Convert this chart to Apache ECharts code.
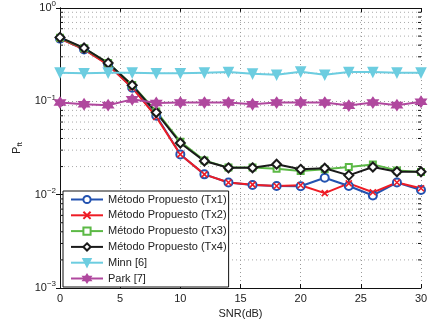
<!DOCTYPE html>
<html>
<head>
<meta charset="utf-8">
<script src="https://cdn.jsdelivr.net/npm/echarts@6/dist/echarts.min.js"></script>
<style>
  html, body { margin: 0; padding: 0; background: #fff; }
  #chart { width: 431px; height: 327px; }
</style>
</head>
<body>
<div id="chart"></div>
<script>
// SNR (dB) sampled every 2 dB
const snr = [0, 2, 4, 6, 8, 10, 12, 14, 16, 18, 20, 22, 24, 26, 28, 30];

// P_ft per method
const tx1 = [0.47, 0.36, 0.248, 0.14, 0.070, 0.027, 0.0165, 0.0135, 0.0127, 0.0124, 0.0123, 0.0152, 0.0124, 0.0098, 0.0135, 0.0112];
const tx2 = [0.47, 0.36, 0.245, 0.14, 0.068, 0.027, 0.0165, 0.0135, 0.0128, 0.0124, 0.0126, 0.0104, 0.0132, 0.0106, 0.0135, 0.0117];
const tx3 = [0.48, 0.37, 0.258, 0.15, 0.078, 0.037, 0.0232, 0.0195, 0.0195, 0.0190, 0.0179, 0.0187, 0.0198, 0.0211, 0.0182, 0.0175];
const tx4 = [0.484, 0.373, 0.257, 0.149, 0.0758, 0.0358, 0.0229, 0.0194, 0.0194, 0.0212, 0.0187, 0.0192, 0.0161, 0.0198, 0.0176, 0.0176];
const minn = [0.203, 0.200, 0.203, 0.203, 0.200, 0.200, 0.203, 0.206, 0.198, 0.193, 0.208, 0.193, 0.206, 0.206, 0.203, 0.203];
const park = [0.097, 0.093, 0.091, 0.105, 0.096, 0.097, 0.097, 0.097, 0.093, 0.097, 0.097, 0.097, 0.090, 0.097, 0.091, 0.099];

const names = ["Método Propuesto (Tx1)", "Método Propuesto (Tx2)", "Método Propuesto (Tx3)", "Método Propuesto (Tx4)", "Minn [6]", "Park [7]"];

// minor log ticks (2..9 of each decade)
const minorTicks = [];
[0.001, 0.01, 0.1].forEach((d) => {
  for (let m = 2; m <= 9; m++) minorTicks.push(+(d * m).toPrecision(3));
});

const font = "'Liberation Sans', Arial, sans-serif";

function pairs(ys) {
  return snr.map((x, i) => [x, ys[i]]);
}

function expLabel(v) {
  const e = Math.round(Math.log10(v));
  return `{b|10}{s|${e < 0 ? "\u2212" + (-e) : e}}`;
}

const labelRich = {
  b: { fontSize: 11, color: "#222", fontFamily: font },
  s: { fontSize: 8, color: "#222", fontFamily: font, padding: [0, 0, 8, 0] }
};

function lineSeries(name, ys, color, symbol, size, extra) {
  return Object.assign({
    name,
    type: "line",
    data: pairs(ys),
    symbol,
    symbolSize: size,
    showAllSymbol: true,
    lineStyle: { color, width: 2 },
    itemStyle: { color, borderColor: color, borderWidth: 1.6 },
    emphasis: { disabled: true },
    animation: false
  }, extra || {});
}

const chart = echarts.init(document.getElementById("chart"));

chart.setOption({
  animation: false,
  grid: { left: 60, right: 10, top: 5, bottom: 39 },
  xAxis: [
    {
      type: "value", min: 0, max: 30, interval: 5,
      name: "SNR(dB)", nameLocation: "middle", nameGap: 20,
      nameTextStyle: { fontSize: 11, color: "#222", fontFamily: font },
      axisLine: { lineStyle: { color: "#111", width: 1 } },
      axisTick: { inside: true, length: 4, lineStyle: { color: "#111" } },
      axisLabel: { fontSize: 11, color: "#222", fontFamily: font, margin: 5 },
      splitLine: { show: true, lineStyle: { color: "#999", type: [1, 3], width: 1 } }
    },
    {
      type: "value", min: 0, max: 30, interval: 5, position: "top",
      axisLine: { lineStyle: { color: "#111", width: 1 } },
      axisTick: { inside: true, length: 4, lineStyle: { color: "#111" } },
      axisLabel: { show: false }, splitLine: { show: false }
    }
  ],
  yAxis: [
    {
      type: "log", logBase: 10, min: 0.001, max: 1,
      name: "{p|P}{f|ft}", nameLocation: "middle", nameGap: 31, nameRotate: 90,
      nameTextStyle: {
        rich: {
          p: { fontSize: 11, color: "#222", fontFamily: font },
          f: { fontSize: 8, color: "#222", fontFamily: font, padding: [6, 0, 0, 0] }
        }
      },
      axisLine: { lineStyle: { color: "#111", width: 1 } },
      axisTick: { inside: true, length: 4, lineStyle: { color: "#111" } },
      axisLabel: { formatter: expLabel, rich: labelRich, margin: 4 },
      splitLine: { show: true, lineStyle: { color: "#999", type: [1, 3], width: 1 } }
    },
    {
      type: "log", logBase: 10, min: 0.001, max: 1, position: "right",
      axisLine: { show: true, lineStyle: { color: "#111", width: 1 } },
      axisTick: { show: true, inside: true, length: 4, lineStyle: { color: "#111" } },
      axisLabel: { show: false }, splitLine: { show: false }
    }
  ],
  legend: {
    data: names,
    orient: "vertical",
    left: 63, top: 191,
    padding: [3, 2, 3, 7],
    itemWidth: 32, itemHeight: 9, itemGap: 4.8,
    backgroundColor: "#fff",
    borderColor: "#111", borderWidth: 1,
    textStyle: { fontSize: 11, color: "#222", fontFamily: font },
    selectedMode: false
  },
  series: [
    {
      type: "custom",
      silent: true,
      z: 1,
      animation: false,
      data: minorTicks.map((v) => [0, v]),
      renderItem: (params, api) => {
        const v = api.value(1);
        const a = api.coord([0, v]);
        const b = api.coord([30, v]);
        return {
          type: "group",
          children: [
            { type: "line", shape: { x1: a[0], y1: a[1], x2: b[0], y2: b[1] }, style: { stroke: "#aaa", lineWidth: 1, lineDash: [1, 3] } },
            { type: "line", shape: { x1: a[0], y1: a[1], x2: a[0] + 3, y2: a[1] }, style: { stroke: "#111", lineWidth: 1 } },
            { type: "line", shape: { x1: b[0], y1: b[1], x2: b[0] - 3, y2: b[1] }, style: { stroke: "#111", lineWidth: 1 } }
          ]
        };
      }
    },
    lineSeries(names[0], tx1, "#2352b0", "emptyCircle", 8),
    lineSeries(names[1], tx2, "#ee1c25", "path://M0,0L10,10M10,0L0,10", 6),
    lineSeries(names[2], tx3, "#5cb946", "emptyRect", 6),
    lineSeries(names[3], tx4, "#1a1a1a", "emptyDiamond", 9),
    lineSeries(names[4], minn, "#6ccde0", "triangle", 9, { symbolRotate: 180 }),
    lineSeries(names[5], park, "#b0489e", "path://M5,0L9.33,7.5L0.67,7.5Z M5,10L0.67,2.5L9.33,2.5Z", 10)
  ]
});
</script>
</body>
</html>
